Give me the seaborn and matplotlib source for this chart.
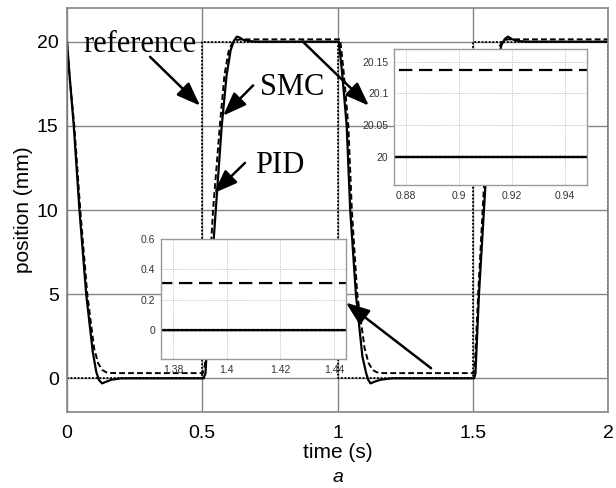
import matplotlib
matplotlib.use('Agg')
import matplotlib.pyplot as plt
import seaborn as sns

# ---------------- data ----------------
ref_t = [0.0, 0.0, 0.5, 0.5, 1.0, 1.0, 1.5, 1.5, 2.0, 2.0]
ref_y = [20.0, 0.0, 0.0, 20.0, 20.0, 0.0, 0.0, 20.0, 20.0, 0.0]

smc_t = [0.000, 0.008, 0.025, 0.046, 0.071, 0.095, 0.108, 0.118, 0.130, 0.145, 0.165, 0.200,
         0.505, 0.512, 0.528, 0.550, 0.572, 0.590, 0.605, 0.617, 0.628, 0.638, 0.650, 0.670, 0.700,
         1.005, 1.018, 1.034, 1.047, 1.068, 1.092, 1.106, 1.114, 1.122, 1.137, 1.160, 1.200,
         1.505, 1.510, 1.523, 1.547, 1.570, 1.590, 1.606, 1.618, 1.630, 1.645, 1.665, 1.700, 2.000]
smc_y = [20.0, 18.3, 15.0, 10.0, 5.0, 1.6, 0.4, -0.1, -0.3, -0.2, -0.08, 0.0,
         0.0, 0.3, 5.0, 10.0, 15.0, 18.0, 19.5, 20.05, 20.3, 20.25, 20.12, 20.04, 20.0,
         20.0, 18.0, 15.0, 10.0, 5.0, 1.3, 0.3, -0.1, -0.3, -0.2, -0.08, 0.0,
         0.0, 0.3, 5.0, 11.5, 16.0, 18.6, 19.8, 20.15, 20.3, 20.15, 20.04, 20.0, 20.0]

pid_t = [0.000, 0.010, 0.027, 0.049, 0.075, 0.100, 0.115, 0.130, 0.145, 0.160, 0.200,
         0.502, 0.510, 0.522, 0.540, 0.565, 0.582, 0.597, 0.610, 0.625, 0.650,
         1.010, 1.024, 1.040, 1.053, 1.073, 1.100, 1.115, 1.130, 1.145, 1.170,
         1.503, 1.508, 1.520, 1.540, 1.563, 1.582, 1.598, 1.612, 1.630, 1.660, 2.000]
pid_y = [20.0, 17.8, 15.0, 10.0, 5.0, 1.8, 0.9, 0.5, 0.36, 0.32, 0.31,
         0.31, 0.8, 5.0, 10.0, 15.0, 18.0, 19.4, 19.9, 20.1, 20.137,
         20.137, 18.0, 15.0, 10.0, 5.0, 1.8, 0.9, 0.5, 0.36, 0.31,
         0.31, 0.8, 5.0, 11.0, 16.0, 18.6, 19.7, 20.05, 20.137, 20.137, 20.137]

main_xticks = [0, 0.5, 1, 1.5, 2]
main_xticklabels = ['0', '0.5', '1', '1.5', '2']
main_yticks = [0, 5, 10, 15, 20]
main_yticklabels = ['0', '5', '10', '15', '20']

in1_xticks = [0.88, 0.90, 0.92, 0.94]
in1_xticklabels = ['0.88', '0.9', '0.92', '0.94']
in1_yticks = [20.0, 20.05, 20.1, 20.15]
in1_yticklabels = ['20', '20.05', '20.1', '20.15']

in2_xticks = [1.38, 1.40, 1.42, 1.44]
in2_xticklabels = ['1.38', '1.4', '1.42', '1.44']
in2_yticks = [0.0, 0.2, 0.4, 0.6]
in2_yticklabels = ['0', '0.2', '0.4', '0.6']

# ---------------- style ----------------
sns.set_style('white')
plt.rcParams['font.family'] = ['Liberation Sans', 'DejaVu Sans']
plt.rcParams['text.color'] = 'black'
plt.rcParams['axes.labelcolor'] = 'black'
SERIF = ['Liberation Serif', 'DejaVu Serif']
W, H = 616, 488

fig = plt.figure(figsize=(W / 100, H / 100), dpi=100)


def px_axes(l, t, r, b):
    return fig.add_axes([l / W, 1 - b / H, (r - l) / W, (b - t) / H])


def draw(a, lw_ref, lw_pid, dash, lw_smc):
    sns.lineplot(x=ref_t, y=ref_y, ax=a, color='black', lw=lw_ref, linestyle=(0, (1, 1)),
                 estimator=None, sort=False)
    sns.lineplot(x=smc_t, y=smc_y, ax=a, color='black', lw=lw_smc, linestyle='-',
                 estimator=None, sort=False)
    sns.lineplot(x=pid_t, y=pid_y, ax=a, color='black', lw=lw_pid, linestyle=dash,
                 estimator=None, sort=False)


# main axes
ax = px_axes(67, 8, 608, 412)
draw(ax, 1.3, 1.4, (0, (3, 1.6)), 1.6)
ax.set_xlim(0, 2)
ax.set_ylim(-2, 22)
ax.set_xticks(main_xticks)
ax.set_xticklabels(main_xticklabels)
ax.set_yticks(main_yticks)
ax.set_yticklabels(main_yticklabels)
ax.tick_params(length=0, labelsize=14, pad=6, colors='black')
ax.tick_params(axis='x', pad=9)
ax.grid(True, color='#858585', lw=1.0)
for s in ax.spines.values():
    s.set_color('#858585')
    s.set_linewidth(1.2)
ax.set_xlabel('time (s)', fontsize=15, labelpad=1, color='black')
ax.set_ylabel('position (mm)', fontsize=15, labelpad=3, color='black')

# annotations
ax.text(0.059, 19.4, 'reference', family=SERIF, fontsize=22, va='baseline', ha='left', color='black')
ax.text(0.713, 16.85, 'SMC', family=SERIF, fontsize=22, va='baseline', ha='left', color='black')
ax.text(0.695, 12.2, 'PID', family=SERIF, fontsize=22, va='baseline', ha='left', color='black')

arrow_kw = dict(arrowstyle='-|>,head_length=0.72,head_width=0.27', color='black', lw=1.8,
                shrinkA=0, shrinkB=0, mutation_scale=20)
arrows = [((0.307, 19.1), (0.492, 16.2)),
          ((0.688, 17.4), (0.577, 15.6)),
          ((0.658, 12.8), (0.543, 11.0)),
          ((0.872, 20.0), (1.116, 16.2)),
          ((1.346, 0.6), (1.031, 4.5))]
for tail, tip in arrows:
    ax.annotate('', xy=tip, xytext=tail, arrowprops=arrow_kw)


def style_inset(a, xl, yl, xt, xtl, yt, ytl):
    a.set_facecolor('white')
    a.set_xlim(*xl)
    a.set_ylim(*yl)
    a.set_xticks(xt)
    a.set_xticklabels(xtl)
    a.set_yticks(yt)
    a.set_yticklabels(ytl)
    a.tick_params(length=0, labelsize=7.5, colors='#333333')
    a.tick_params(axis='x', pad=4)
    a.tick_params(axis='y', pad=4)
    a.grid(True, color='#c4c4c4', lw=0.7, linestyle=(0, (1, 1)))
    for s in a.spines.values():
        s.set_color('#9a9a9a')
        s.set_linewidth(1.0)
    a.set_xlabel('')
    a.set_ylabel('')


ins1 = px_axes(394, 49, 587, 185)
draw(ins1, 1.6, 1.6, (0, (6, 3)), 1.7)
style_inset(ins1, (0.8755, 0.9483), (19.956, 20.17), in1_xticks, in1_xticklabels,
            in1_yticks, in1_yticklabels)

ins2 = px_axes(161, 239, 346, 359)
draw(ins2, 1.6, 1.6, (0, (6, 3)), 1.7)
style_inset(ins2, (1.3755, 1.4445), (-0.19, 0.6), in2_xticks, in2_xticklabels,
            in2_yticks, in2_yticklabels)

fig.text(338 / W, 1 - 477 / H, 'a', fontsize=14, style='italic', ha='center', va='center',
         color='black')

fig.savefig('out.png', dpi=100)
